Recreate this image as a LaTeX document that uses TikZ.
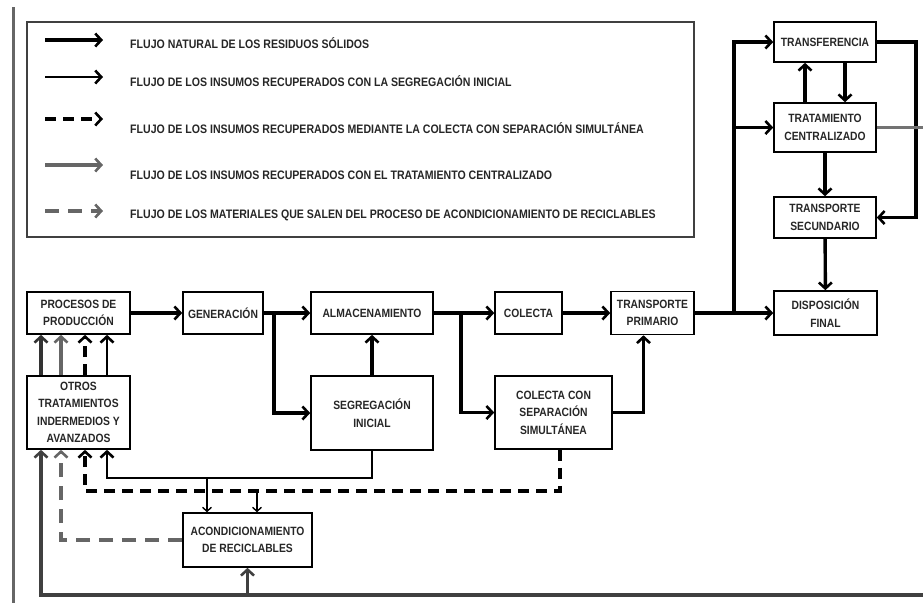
\documentclass[tikz,border=0pt]{standalone}
\usepackage{fontspec}
\setmainfont[FakeStretch=0.86]{Liberation Sans}
\usetikzlibrary{arrows.meta}

\begin{document}
\begin{tikzpicture}[x=1pt,y=-1pt,
    box/.style={draw,line width=1.6pt,align=center,inner sep=1pt,
        font=\bfseries\fontsize{12}{17.5}\selectfont,text=black!85},
    legtext/.style={anchor=west,inner sep=0pt,
        font=\bfseries\fontsize{12.3}{14}\selectfont,text=black!85},
    tip/.style={-{Straight Barb[length=6pt,width=13pt,line width=2.6pt]}},
    smalltip/.style={-{Straight Barb[length=4pt,width=9pt,line width=1.4pt]}},
    flow/.style={line width=3.4pt,tip},
    segflow/.style={line width=2.2pt,tip},
    ccsflow/.style={line width=3.4pt,dash pattern=on 11pt off 7pt,tip},
    tcflow/.style={line width=3.4pt,black!60,tip},
    acflow/.style={line width=3.4pt,black!60,dash pattern=on 14pt off 9pt,tip}]

    \useasboundingbox (0,0) rectangle (923,603);

    % page edge and legend frame
    \draw[line width=3pt,black!60] (13,7) -- (13,603);
    \draw[line width=2.4pt,black!75] (27,22) rectangle (694,237);

    \node[legtext] (l1) at (130,43) {FLUJO NATURAL DE LOS RESIDUOS SÓLIDOS};
    \node[legtext] (l2) at (130,81) {FLUJO DE LOS INSUMOS RECUPERADOS CON LA SEGREGACIÓN INICIAL};
    \node[legtext] (l3) at (130,128) {FLUJO DE LOS INSUMOS RECUPERADOS MEDIANTE LA COLECTA CON SEPARACIÓN SIMULTÁNEA};
    \node[legtext] (l4) at (130,175) {FLUJO DE LOS INSUMOS RECUPERADOS CON EL TRATAMIENTO CENTRALIZADO};
    \node[legtext] (l5) at (130,215) {FLUJO DE LOS MATERIALES QUE SALEN DEL PROCESO DE ACONDICIONAMIENTO DE RECICLABLES};

    \coordinate (a1) at (45,40);
    \coordinate (a2) at (45,77);
    \coordinate (a3) at (45,119);
    \coordinate (a4) at (45,165);
    \coordinate (a5) at (45,211);
    \draw[flow] (a1) -- ++(58,0);
    \draw[segflow] (a2) -- ++(58,0);
    \draw[ccsflow] (a3) -- ++(58,0);
    \draw[tcflow] (a4) -- ++(58,0);
    \draw[acflow] (a5) -- ++(58,0);

    % boxes
    \node[box,minimum width=103pt,minimum height=42pt] (proc) at (78.5,313) {PROCESOS DE\\PRODUCCIÓN};
    \node[box,minimum width=80pt,minimum height=42pt] (gen) at (223,313) {GENERACIÓN};
    \node[box,minimum width=122pt,minimum height=42pt] (alm) at (372,313) {ALMACENAMIENTO};
    \node[box,minimum width=67pt,minimum height=42pt] (col) at (528.5,313) {COLECTA};
    \node[box,minimum width=83pt,minimum height=43pt] (tp) at (652.5,313) {TRANSPORTE\\PRIMARIO};
    \node[box,minimum width=103pt,minimum height=44pt] (disp) at (825.5,313) {DISPOSICIÓN\\FINAL};
    \node[box,minimum width=102pt,minimum height=40pt] (transf) at (825,42) {TRANSFERENCIA};
    \node[box,minimum width=102pt,minimum height=49pt] (trat) at (825,127.5) {TRATAMIENTO\\CENTRALIZADO};
    \node[box,minimum width=102pt,minimum height=41pt] (ts) at (825,217.5) {TRANSPORTE\\SECUNDARIO};
    \node[box,minimum width=103pt,minimum height=73pt] (otros) at (78.5,412.5) {OTROS\\TRATAMIENTOS\\INDERMEDIOS Y\\AVANZADOS};
    \node[box,minimum width=122pt,minimum height=74pt] (seg) at (372,413) {SEGREGACIÓN\\INICIAL};
    \node[box,minimum width=117pt,minimum height=73pt] (ccs) at (553.5,412.5) {COLECTA CON\\SEPARACIÓN\\SIMULTÁNEA};
    \node[box,minimum width=129pt,minimum height=54pt] (acond) at (247.5,540) {ACONDICIONAMIENTO\\DE RECICLABLES};

    \coordinate (c1) at (41,0);
    \coordinate (c2) at (61,0);
    \coordinate (c3) at (85,0);
    \coordinate (c4) at (107,0);
    \coordinate (c5) at (560,0);
    \coordinate (b1) at (207,477);
    \coordinate (b2) at (257,491);
    \coordinate (edgeR) at (923,127.5);
    \coordinate (edgeB) at (923,595);

    % natural flow
    \draw[flow] (proc) -- (gen);
    \draw[flow] (gen) -- (alm);
    \draw[flow] (gen.east) -- ++(10,0) |- (seg);
    \draw[flow] (seg) -- (alm);
    \draw[flow] (alm) -- (col);
    \draw[flow] (alm.east) -- ++(27,0) |- (ccs);
    \draw[flow] (col) -- (tp);
    \draw[flow] (ccs.east) -| ([xshift=-9pt]tp.south);
    \draw[flow] (tp) -- (disp);
    \draw[flow] (tp.east) -- ++(39,0) |- (transf);
    \draw[flow] ([xshift=39pt]tp.east) |- (trat);
    \draw[flow] ([xshift=-20pt]trat.north) -- ([xshift=-20pt]transf.south);
    \draw[flow] ([xshift=20pt]transf.south) -- ([xshift=20pt]trat.north);
    \draw[flow] (trat) -- (ts);
    \draw[flow] (ts) -- (disp);
    \draw[flow] (transf.east) -- ++(39,0) |- (ts);

    % recovered flows
    \draw[segflow] (seg.south) -- ++(0,27) -| (otros.south -| c4);
    \draw[line width=1.4pt,smalltip] (b1) -- (b1 |- acond.north);
    \draw[ccsflow] (ccs.south -| c5) -- (c5 |- b2) -| (otros.south -| c3);
    \draw[line width=1.4pt,smalltip] (b2) -- (b2 |- acond.north);
    \draw[acflow] (acond.west) -| (otros.south -| c2);
    \draw[line width=3.4pt,black!55] (trat.east) -- (edgeR);
    \draw[tcflow,black!75] (edgeB) -| (otros.south -| c1);
    \draw[tcflow,black!75] (edgeB -| acond) -- (acond);

    % otros -> procesos
    \draw[flow,black!80] (otros.north -| c1) -- (proc.south -| c1);
    \draw[tcflow] (otros.north -| c2) -- (proc.south -| c2);
    \draw[ccsflow] (otros.north -| c3) -- (proc.south -| c3);
    \draw[segflow] (otros.north -| c4) -- (proc.south -| c4);

\end{tikzpicture}
\end{document}
